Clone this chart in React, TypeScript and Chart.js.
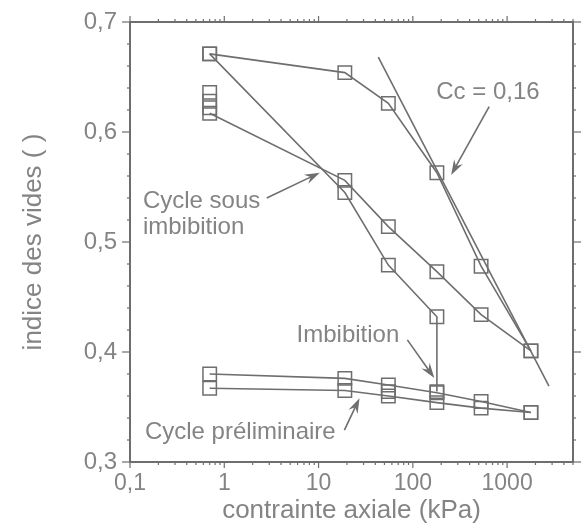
import React, { useEffect, useRef } from "react";
import { Chart, registerables } from "chart.js";

Chart.register(...registerables);

// ---------- data ----------
const pressureLoad = [0.7, 19, 55, 180, 530, 1790];
const voidDryLoad = [0.671, 0.654, 0.626, 0.563, 0.478, 0.401];

const pressureWetLoad = [0.7, 19, 55, 180, 180];
const voidWetLoad = [0.671, 0.545, 0.479, 0.432, 0.364];

const pressureCycle = [0.7, 19, 55, 180, 530, 1790];
const voidCycle = [0.617, 0.556, 0.514, 0.473, 0.434, 0.401];

const pressureUnload = [0.7, 0.7, 0.7];
const voidUnload = [0.636, 0.628, 0.622];

const pressurePrelimA = [0.7, 19, 55, 180, 530, 1790];
const voidPrelimA = [0.38, 0.376, 0.37, 0.363, 0.355, 0.345];

const pressurePrelimB = [0.7, 19, 55, 180, 530, 1790];
const voidPrelimB = [0.367, 0.365, 0.36, 0.354, 0.349, 0.345];

const pressurePrelimExtra = [55];
const voidPrelimExtra = [0.364];

const pressureCc = [43, 2780];
const voidCc = [0.668, 0.369];

const xTickValues = [0.1, 1, 10, 100, 1000];
const xTickLabels = ["0,1", "1", "10", "100", "1000"];

// annotations: text anchored in data coordinates
const annotationTexts = [
  { text: "Cc = 0,16", x: 177, y: 0.636 },
  { text: "Cycle sous", x: 0.137, y: 0.537 },
  { text: "imbibition", x: 0.137, y: 0.513 },
  { text: "Imbibition", x: 5.85, y: 0.4155 },
  { text: "Cycle préliminaire", x: 0.144, y: 0.327 },
];
const annotationArrows = [
  { from: [645, 0.623], to: [255, 0.561] },
  { from: [2.82, 0.54], to: [10.3, 0.563] },
  { from: [87.5, 0.411], to: [169, 0.3764] },
  { from: [18.8, 0.329], to: [27.2, 0.358] },
];

const LINE = "#6e6e6e";
const TEXT = "#848484";
const FONT = "'Liberation Sans', Arial, Helvetica, sans-serif";

const pts = (xs: number[], ys: number[]) => xs.map((x, i) => ({ x, y: ys[i] }));

const frameTicks = {
  id: "frameTicks",
  beforeDatasetsDraw(chart: any) {
    const { ctx, chartArea, scales } = chart;
    const { left, right, top, bottom } = chartArea;
    const x = scales.x;
    const y = scales.y;
    ctx.save();
    ctx.strokeStyle = LINE;
    ctx.lineWidth = 2;
    ctx.strokeRect(left, top, right - left, bottom - top);
    ctx.lineWidth = 1.2;
    const seg = (a: number, b: number, c: number, d: number) => {
      ctx.beginPath();
      ctx.moveTo(a, b);
      ctx.lineTo(c, d);
      ctx.stroke();
    };
    for (let d = -1; d <= 3; d++) {
      for (let m = 1; m <= 9; m++) {
        const v = m * Math.pow(10, d);
        if (v > x.max) break;
        const px = x.getPixelForValue(v);
        const len = m === 1 ? 6 : 3;
        seg(px, bottom, px, bottom + len);
        seg(px, top, px, top - len);
      }
    }
    for (let k = 0; k <= 20; k++) {
      const v = 0.3 + k * 0.02;
      const py = y.getPixelForValue(v);
      const len = k % 5 === 0 ? 8 : 3;
      seg(left, py, left - len, py);
      seg(right, py, right + len, py);
    }
    ctx.restore();
  },
  afterDatasetsDraw(chart: any) {
    const { ctx, scales } = chart;
    const x = scales.x;
    const y = scales.y;
    ctx.save();
    ctx.fillStyle = TEXT;
    ctx.font = `24px ${FONT}`;
    ctx.textAlign = "left";
    ctx.textBaseline = "middle";
    annotationTexts.forEach((a) => {
      ctx.fillText(a.text, x.getPixelForValue(a.x), y.getPixelForValue(a.y));
    });
    ctx.strokeStyle = LINE;
    ctx.fillStyle = LINE;
    ctx.lineWidth = 1.6;
    annotationArrows.forEach((a) => {
      const x0 = x.getPixelForValue(a.from[0]);
      const y0 = y.getPixelForValue(a.from[1]);
      const x1 = x.getPixelForValue(a.to[0]);
      const y1 = y.getPixelForValue(a.to[1]);
      const ang = Math.atan2(y1 - y0, x1 - x0);
      const L = 16;
      const w = 0.32;
      ctx.beginPath();
      ctx.moveTo(x0, y0);
      ctx.lineTo(x1 - Math.cos(ang) * 8, y1 - Math.sin(ang) * 8);
      ctx.stroke();
      ctx.beginPath();
      ctx.moveTo(x1, y1);
      ctx.lineTo(x1 - L * Math.cos(ang - w), y1 - L * Math.sin(ang - w));
      ctx.lineTo(x1 - 10 * Math.cos(ang), y1 - 10 * Math.sin(ang));
      ctx.lineTo(x1 - L * Math.cos(ang + w), y1 - L * Math.sin(ang + w));
      ctx.closePath();
      ctx.fill();
    });
    ctx.restore();
  },
};

export default function App() {
  const ref = useRef<HTMLCanvasElement>(null);
  useEffect(() => {
    document.body.style.margin = "0";
    const lineSet = (data: any[], showMarkers = true, showLine = true) => ({
      data,
      showLine,
      borderColor: LINE,
      borderWidth: 1.6,
      backgroundColor: "rgba(0,0,0,0)",
      pointStyle: "rect",
      pointRadius: showMarkers ? 9.5 : 0,
      pointBorderWidth: 1.5,
      pointBorderColor: LINE,
      pointBackgroundColor: "rgba(0,0,0,0)",
      tension: 0,
    });
    const chart = new Chart(ref.current as HTMLCanvasElement, {
      type: "scatter",
      data: {
        datasets: [
          lineSet(pts(pressureCc, voidCc), false, true),
          lineSet(pts(pressureLoad, voidDryLoad)),
          lineSet(pts(pressureWetLoad, voidWetLoad)),
          lineSet(pts(pressureCycle, voidCycle)),
          lineSet(pts(pressureUnload, voidUnload), true, false),
          lineSet(pts(pressurePrelimA, voidPrelimA)),
          lineSet(pts(pressurePrelimB, voidPrelimB)),
          lineSet(pts(pressurePrelimExtra, voidPrelimExtra), true, false),
        ] as any,
      },
      options: {
        responsive: false,
        animation: false,
        devicePixelRatio: 1,
        layout: { padding: { top: 22, right: 10, left: 0, bottom: 0 } },
        plugins: { legend: { display: false }, tooltip: { enabled: false } },
        scales: {
          x: {
            type: "logarithmic",
            min: 0.1,
            max: 5000,
            afterBuildTicks: (s: any) => {
              s.ticks = xTickValues.map((v) => ({ value: v }));
            },
            afterFit: (s: any) => {
              s.height = 66;
            },
            grid: { display: false, drawTicks: true, tickLength: 6 },
            border: { display: false },
            ticks: {
              color: TEXT,
              font: { family: FONT, size: 23 },
              padding: 2,
              autoSkip: false,
              maxRotation: 0,
              callback: (_v: any, i: number) => xTickLabels[i],
            },
            title: {
              display: true,
              text: "contrainte axiale (kPa)",
              color: TEXT,
              font: { family: FONT, size: 26 },
              padding: { top: 0, bottom: 2 },
            },
          },
          y: {
            min: 0.3,
            max: 0.7,
            afterFit: (s: any) => {
              s.width = 130;
            },
            grid: { display: false, drawTicks: true, tickLength: 7 },
            border: { display: false },
            ticks: {
              stepSize: 0.1,
              color: TEXT,
              font: { family: FONT, size: 24 },
              padding: 6,
              callback: (v: any) => Number(v).toFixed(1).replace(".", ","),
            },
            title: {
              display: true,
              text: "indice des vides ( )",
              color: TEXT,
              font: { family: FONT, size: 26 },
              padding: { top: 18, bottom: 0 },
            },
          },
        },
      } as any,
      plugins: [frameTicks],
    });
    return () => chart.destroy();
  }, []);
  return (
    <div style={{ width: 584, height: 528 }}>
      <canvas ref={ref} width={584} height={528} style={{ display: "block" }} />
    </div>
  );
}
